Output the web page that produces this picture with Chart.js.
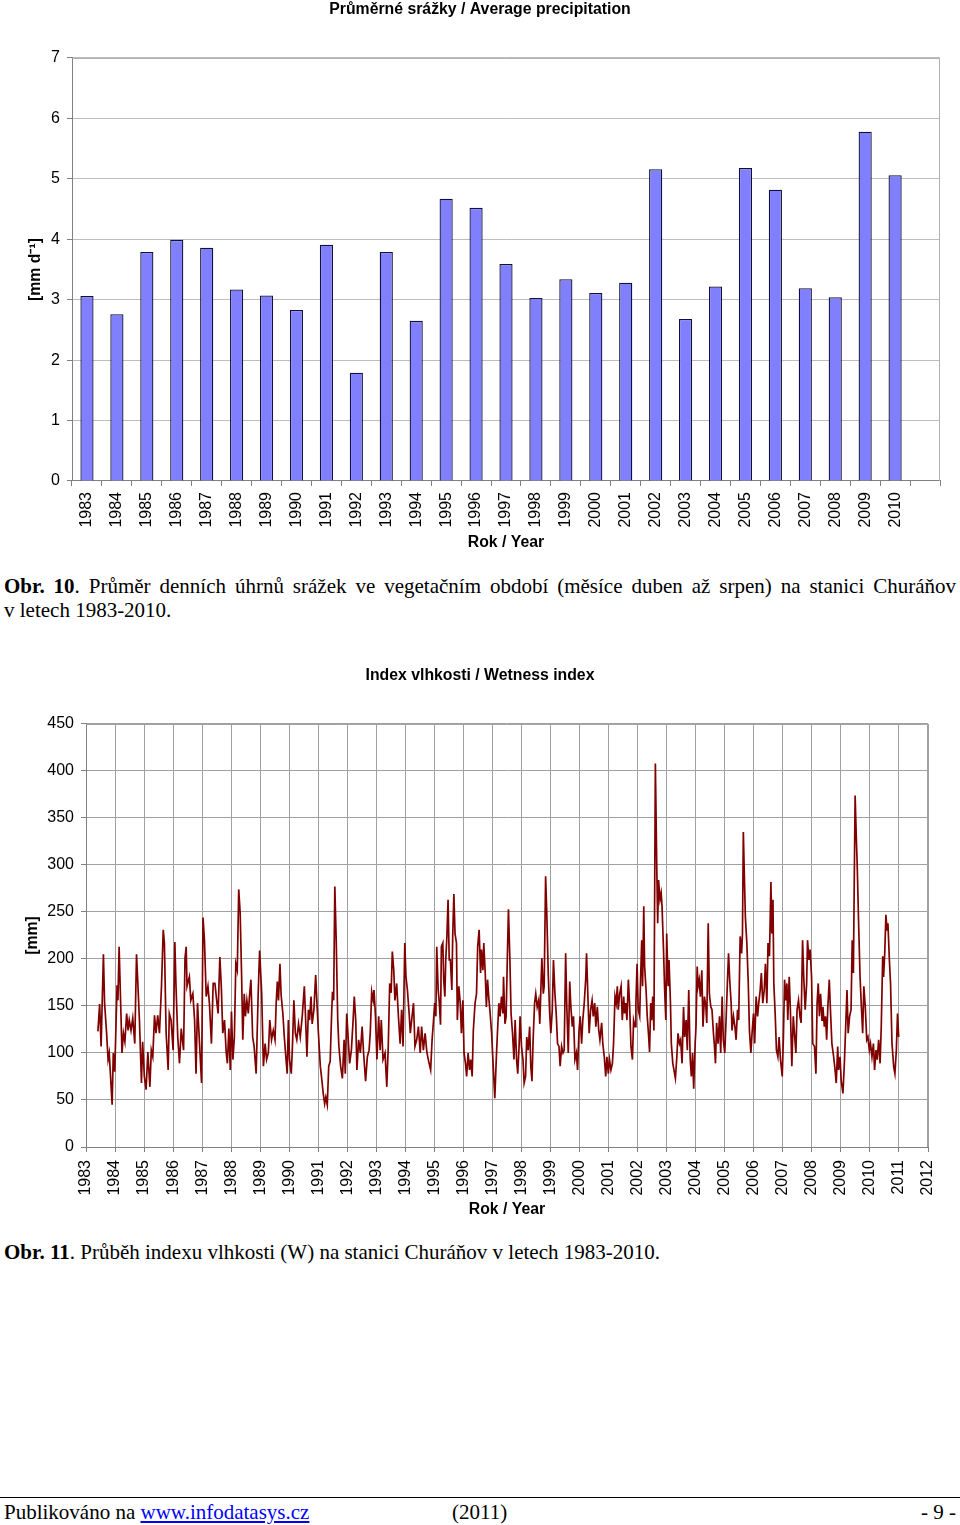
<!DOCTYPE html>
<html>
<head>
<meta charset="utf-8">
<script src="https://cdn.jsdelivr.net/npm/chart.js@4.4.0/dist/chart.umd.min.js"></script>
<style>
  body { margin: 0; width: 960px; height: 1525px; background: #fff; position: relative; font-family: "Liberation Serif", "Times New Roman", serif; color: #000; }
  canvas { position: absolute; left: 0; }
  .txt { position: absolute; font-size: 21px; line-height: 24px; white-space: nowrap; }
  .just { left: 4px; width: 952px; text-align: justify; text-align-last: justify; white-space: normal; }
  .rule { position: absolute; left: 0; width: 960px; top: 1497px; border-top: 1px solid #000; }
  a { color: #0000ff; }
</style>
</head>
<body>

<canvas id="precipChart" width="960" height="560" style="top:0px"></canvas>
<div class="txt just" style="top:574px"><b>Obr. 10</b>. Průměr denních úhrnů srážek ve vegetačním období (měsíce duben až srpen) na stanici Churáňov</div>
<div class="txt" style="top:598px;left:4px">v letech 1983-2010.</div>

<canvas id="wetChart" width="960" height="590" style="top:640px"></canvas>
<div class="txt" style="top:1240px;left:4px"><b>Obr. 11</b>. Průběh indexu vlhkosti (W) na stanici Churáňov v letech 1983-2010.</div>

<div class="rule"></div>
<div class="txt" style="top:1500px;left:4px">Publikováno na <a href="#">www.infodatasys.cz</a></div>
<div class="txt" style="top:1500px;left:452px">(2011)</div>
<div class="txt" style="top:1500px;right:4px">- 9 -</div>

<script>
// --- data: average daily precipitation, April-August
const precipYears = ['1983','1984','1985','1986','1987','1988','1989','1990','1991','1992','1993','1994','1995','1996',
  '1997','1998','1999','2000','2001','2002','2003','2004','2005','2006','2007','2008','2009','2010',''];
const precipValues = [3.06,2.76,3.79,3.99,3.86,3.17,3.07,2.83,3.91,1.79,3.79,2.65,4.67,4.52,
  3.59,3.03,3.34,3.11,3.28,5.16,2.68,3.22,5.18,4.82,3.19,3.04,5.78,5.06,null];
const precipTicks = [0,1,2,3,4,5,6,7];

// --- data: wetness index, time as decimal year
const wetDates = [
  1983.41,1983.47,1983.52,1983.60,1983.64,1983.71,1983.76,1983.80,1983.90,1983.94,1983.99,
  1984.07,1984.10,1984.14,1984.20,1984.24,1984.29,1984.34,1984.40,1984.45,1984.49,1984.55,1984.61,1984.68,1984.74,1984.78,1984.84,1984.91,1984.95,
  1985.01,1985.07,1985.13,1985.20,1985.25,1985.30,1985.36,1985.41,1985.47,1985.53,1985.60,1985.66,1985.70,1985.76,1985.83,1985.87,1985.93,
  1986.00,1986.06,1986.10,1986.16,1986.22,1986.28,1986.36,1986.41,1986.45,1986.48,1986.56,1986.61,1986.68,1986.74,1986.79,1986.84,1986.91,1986.98,
  1987.03,1987.08,1987.14,1987.20,1987.25,1987.32,1987.38,1987.44,1987.51,1987.55,1987.61,1987.66,1987.71,1987.77,1987.83,1987.87,1987.92,1987.97,
  1988.01,1988.06,1988.11,1988.16,1988.21,1988.26,1988.31,1988.36,1988.40,1988.45,1988.49,1988.54,1988.59,1988.63,1988.68,1988.74,1988.79,1988.86,1988.93,1988.98,
  1989.05,1989.11,1989.17,1989.22,1989.28,1989.33,1989.39,1989.45,1989.51,1989.55,1989.59,1989.63,1989.68,1989.72,1989.78,1989.83,1989.89,1989.93,1989.97,
  1990.01,1990.07,1990.11,1990.16,1990.21,1990.26,1990.32,1990.38,1990.45,1990.52,1990.56,1990.61,1990.66,1990.70,1990.75,1990.79,1990.85,1990.91,1990.95,
  1991.00,1991.07,1991.11,1991.17,1991.22,1991.26,1991.31,1991.36,1991.41,1991.46,1991.49,1991.53,1991.57,1991.62,1991.67,1991.71,1991.77,1991.83,1991.89,1991.93,1991.98,
  1992.02,1992.08,1992.14,1992.20,1992.24,1992.29,1992.33,1992.39,1992.45,1992.51,1992.56,1992.63,1992.69,1992.75,1992.79,1992.84,1992.89,1992.92,1992.97,
  1993.02,1993.08,1993.13,1993.17,1993.23,1993.30,1993.36,1993.41,1993.46,1993.51,1993.55,1993.60,1993.64,1993.70,1993.76,1993.82,1993.87,1993.92,1993.98,
  1994.02,1994.07,1994.13,1994.17,1994.23,1994.28,1994.33,1994.39,1994.45,1994.51,1994.56,1994.62,1994.68,1994.74,1994.79,1994.87,1994.92,1994.97,
  1995.01,1995.05,1995.08,1995.13,1995.17,1995.21,1995.24,1995.29,1995.32,1995.36,1995.39,1995.43,1995.47,1995.51,1995.55,1995.60,1995.63,1995.67,1995.71,1995.76,1995.79,1995.84,1995.89,1995.93,1995.98,
  1996.02,1996.07,1996.11,1996.16,1996.21,1996.25,1996.30,1996.34,1996.40,1996.45,1996.49,1996.54,1996.59,1996.62,1996.67,1996.70,1996.75,1996.79,1996.83,1996.87,1996.92,1996.97,
  1997.02,1997.08,1997.13,1997.17,1997.22,1997.26,1997.31,1997.36,1997.38,1997.43,1997.47,1997.51,1997.55,1997.60,1997.64,1997.69,1997.74,1997.78,1997.83,1997.87,1997.92,1997.95,
  1998.00,1998.05,1998.09,1998.14,1998.18,1998.23,1998.28,1998.32,1998.36,1998.40,1998.45,1998.49,1998.54,1998.59,1998.63,1998.67,1998.70,1998.75,1998.78,1998.83,1998.87,1998.92,1998.97,
  1999.01,1999.06,1999.10,1999.15,1999.20,1999.24,1999.29,1999.33,1999.38,1999.43,1999.47,1999.52,1999.56,1999.61,1999.66,1999.70,1999.75,1999.79,1999.84,1999.89,1999.93,1999.98,
  2000.02,2000.07,2000.11,2000.16,2000.21,2000.24,2000.29,2000.33,2000.38,2000.43,2000.47,2000.52,2000.56,2000.61,2000.66,2000.70,2000.76,2000.80,2000.85,2000.90,2000.94,2000.99,
  2001.03,2001.08,2001.13,2001.17,2001.22,2001.26,2001.30,2001.33,2001.38,2001.43,2001.47,2001.52,2001.55,2001.59,2001.63,2001.68,2001.72,2001.77,2001.82,2001.86,2001.91,2001.94,2001.98,
  2002.02,2002.07,2002.10,2002.14,2002.17,2002.21,2002.24,2002.29,2002.33,2002.38,2002.41,2002.45,2002.48,2002.52,2002.56,2002.61,2002.66,2002.69,2002.72,2002.77,2002.81,2002.84,2002.89,2002.93,2002.97,
  2003.00,2003.05,2003.08,2003.13,2003.16,2003.21,2003.25,2003.30,2003.35,2003.39,2003.44,2003.48,2003.53,2003.58,2003.62,2003.67,2003.71,2003.76,2003.81,2003.85,2003.89,2003.93,2003.98,
  2004.01,2004.05,2004.08,2004.12,2004.16,2004.21,2004.25,2004.30,2004.35,2004.38,2004.43,2004.47,2004.52,2004.56,2004.61,2004.64,2004.68,2004.72,2004.77,2004.82,2004.86,2004.91,2004.95,
  2005.00,2005.05,2005.09,2005.13,2005.17,2005.22,2005.25,2005.30,2005.35,2005.39,2005.44,2005.48,2005.53,2005.58,2005.61,2005.64,2005.68,2005.71,2005.76,2005.81,2005.85,2005.90,2005.94,2005.99,
  2006.03,2006.08,2006.13,2006.17,2006.22,2006.26,2006.31,2006.36,2006.40,2006.45,2006.49,2006.54,2006.59,2006.62,2006.66,2006.69,2006.74,2006.78,2006.83,2006.87,2006.92,2006.98,
  2007.02,2007.06,2007.10,2007.14,2007.17,2007.22,2007.26,2007.31,2007.36,2007.40,2007.45,2007.49,2007.54,2007.59,2007.63,2007.68,2007.72,2007.77,2007.82,2007.85,2007.90,2007.94,2007.99,
  2008.03,2008.09,2008.14,2008.18,2008.22,2008.26,2008.30,2008.35,2008.38,2008.43,2008.47,2008.51,2008.55,2008.60,2008.64,2008.69,2008.75,2008.79,2008.84,2008.89,2008.92,2008.97,
  2009.01,2009.07,2009.12,2009.16,2009.21,2009.25,2009.30,2009.35,2009.39,2009.43,2009.46,2009.49,2009.53,2009.56,2009.61,2009.66,2009.70,2009.75,2009.79,2009.84,2009.89,2009.93,2009.98,
  2010.02,2010.07,2010.12,2010.16,2010.21,2010.25,2010.30,2010.35,2010.39,2010.44,2010.47,2010.51,2010.55,2010.59,2010.62,2010.67,2010.71,2010.76,2010.82,2010.86,2010.91,2010.95,2010.99
];
const wetIndex = [
  123,152,107,205,153,121,93,100,45,100,80,
  172,156,213,146,100,121,112,142,124,135,124,137,110,205,178,135,68,112,
  75,61,101,64,103,96,140,121,140,121,171,231,217,121,82,142,135,
  103,218,171,117,89,126,103,201,213,171,181,156,163,135,78,153,110,68,
  244,220,160,171,153,110,174,174,153,142,202,171,121,135,100,89,126,82,
  144,93,117,195,188,274,249,181,114,163,139,156,142,160,178,117,107,78,163,209,
  164,86,110,93,100,135,114,124,114,153,176,156,195,162,142,117,93,78,135,
  93,78,107,156,121,114,131,117,140,171,139,96,146,135,160,131,146,183,156,
  124,86,75,57,46,53,45,86,91,142,165,156,277,217,135,107,86,73,114,78,142,
  121,89,103,135,160,135,82,114,100,128,100,70,96,103,121,165,156,167,139,
  93,139,103,135,93,100,64,107,174,164,208,188,156,174,139,110,146,107,217,
  181,167,142,121,139,153,107,114,128,100,128,103,121,101,93,82,114,135,
  153,139,213,167,153,130,213,217,178,160,199,224,263,199,199,167,224,269,227,217,135,171,153,121,156,
  100,89,75,100,82,93,75,124,153,163,213,231,185,210,188,217,185,149,178,160,142,121,
  89,52,93,121,153,139,160,142,181,131,139,199,253,199,142,121,93,135,93,78,110,139,
  107,93,68,75,117,103,128,86,70,114,153,163,149,156,131,171,201,163,171,288,249,185,142,
  121,146,199,164,139,110,107,86,107,100,103,206,149,100,176,149,128,139,93,100,82,124,
  139,110,135,153,178,206,156,121,146,156,139,153,128,149,124,114,132,110,96,75,96,78,
  93,82,89,110,160,153,171,146,163,171,135,160,142,153,135,178,153,107,93,135,128,153,195,
  146,139,178,220,171,256,192,167,139,117,101,153,135,160,124,408,295,238,284,263,270,256,210,167,135,
  227,171,199,153,110,89,82,73,96,121,110,114,89,149,117,135,103,167,93,75,100,62,110,
  128,192,171,178,160,188,128,160,149,132,238,163,149,146,121,110,89,132,110,139,100,160,114,
  100,139,174,206,178,153,124,139,128,114,146,135,224,206,227,335,282,245,217,174,124,100,121,142,
  110,160,139,153,167,185,153,167,195,153,217,203,282,227,263,174,139,103,96,117,93,75,
  117,178,156,174,135,181,146,86,139,121,100,146,156,139,132,220,181,146,174,220,199,210,181,
  110,107,78,153,174,139,163,135,149,128,139,114,149,178,146,110,96,85,68,107,82,96,
  71,57,89,124,167,121,139,146,220,185,281,374,330,302,238,181,153,121,171,149,114,117,103,
  110,96,110,82,103,93,114,89,128,203,181,206,247,231,238,199,174,110,85,78,103,142,117
];
const wetFirstYear = 1983;
const wetLastYear = 2012;

Chart.defaults.font.family = '"Liberation Sans", Arial, sans-serif';
Chart.defaults.font.size = 16;
Chart.defaults.color = '#000';

// light grey frame around the plot area
const plotFrame = {
  id: 'plotFrame',
  afterDatasetsDraw(chart, args, opts) {
    const a = chart.chartArea;
    const ctx = chart.ctx;
    ctx.save();
    ctx.strokeStyle = opts.color;
    ctx.lineWidth = 1;
    ctx.beginPath();
    ctx.moveTo(a.left, a.top + 0.5);
    ctx.lineTo(a.right - 0.5, a.top + 0.5);
    ctx.lineTo(a.right - 0.5, a.bottom);
    ctx.stroke();
    ctx.restore();
  }
};

const boldTitle = { family: '"Liberation Sans", Arial, sans-serif', size: 15.8, weight: 'bold' };

// empty axis on the right, keeps the plot off the right edge while titles stay page-centred
const spacerAxis = w => ({
  position: 'right',
  display: true,
  grid: { display: false, drawTicks: false },
  border: { display: false },
  ticks: { display: false },
  afterFit: s => { s.width = w; }
});

/* Chart 1 - bars */
new Chart(document.getElementById('precipChart'), {
  type: 'bar',
  data: {
    labels: precipYears,
    datasets: [{
      data: precipValues,
      backgroundColor: '#8080ff',
      borderColor: '#10103a',
      borderWidth: 1.3,
      barPercentage: 0.44,
      categoryPercentage: 1
    }]
  },
  options: {
    responsive: false,
    animation: false,
    events: [],
    layout: { padding: 0 },
    plugins: {
      legend: { display: false },
      tooltip: { enabled: false },
      title: { display: true, text: 'Průměrné srážky / Average precipitation', font: boldTitle, padding: { top: 0, bottom: 39 } },
      plotFrame: { color: '#b0b0b0' }
    },
    scales: {
      x: {
        grid: { offset: true, drawOnChartArea: false, tickLength: 5, color: '#808080' },
        border: { color: '#808080' },
        ticks: { autoSkip: false, minRotation: 90, maxRotation: 90, padding: 6 },
        title: { display: true, text: 'Rok / Year', font: boldTitle, padding: { top: 0, bottom: 8 } },
        afterFit: s => { s.height = 79; }
      },
      y: {
        min: 0, max: 7,
        afterBuildTicks: s => { s.ticks = precipTicks.map(v => ({ value: v })); },
        grid: { color: '#bdbdbd', tickColor: '#808080', tickLength: 5 },
        border: { color: '#808080' },
        ticks: { padding: 7 },
        title: { display: true, text: '[mm d⁻¹]', font: boldTitle, padding: { top: 26, bottom: 0 } },
        afterFit: s => { s.width = 72; }
      },
      spacer: spacerAxis(20)
    }
  },
  plugins: [plotFrame]
});

/* Chart 2 - wetness index line */
const wetPoints = wetDates.map((t, i) => ({ x: t, y: wetIndex[i] }));

new Chart(document.getElementById('wetChart'), {
  type: 'line',
  data: {
    datasets: [{
      data: wetPoints,
      borderColor: '#800000',
      borderWidth: 1.7,
      pointRadius: 0,
      tension: 0,
      fill: false
    }]
  },
  options: {
    responsive: false,
    animation: false,
    events: [],
    layout: { padding: 0 },
    plugins: {
      legend: { display: false },
      tooltip: { enabled: false },
      title: { display: true, text: 'Index vlhkosti / Wetness index', font: boldTitle, padding: { top: 26, bottom: 39 } },
      plotFrame: { color: '#a0a0a0' }
    },
    scales: {
      x: {
        type: 'linear',
        min: wetFirstYear, max: wetLastYear,
        grid: { color: '#a0a0a0', tickColor: '#808080', tickLength: 5 },
        border: { color: '#808080' },
        ticks: { stepSize: 1, autoSkip: false, minRotation: 90, maxRotation: 90, padding: 8, callback: v => String(v) },
        title: { display: true, text: 'Rok / Year', font: boldTitle, padding: { top: 0, bottom: 11 } },
        afterFit: s => { s.height = 83; }
      },
      y: {
        min: 0, max: 450,
        grid: { color: '#a0a0a0', tickColor: '#808080', tickLength: 5 },
        border: { color: '#808080' },
        ticks: { stepSize: 50, padding: 7 },
        title: { display: true, text: '[mm]', font: boldTitle, padding: { top: 23, bottom: 0 } },
        afterFit: s => { s.width = 86; }
      },
      spacer: spacerAxis(32)
    }
  },
  plugins: [plotFrame]
});
</script>
</body>
</html>
